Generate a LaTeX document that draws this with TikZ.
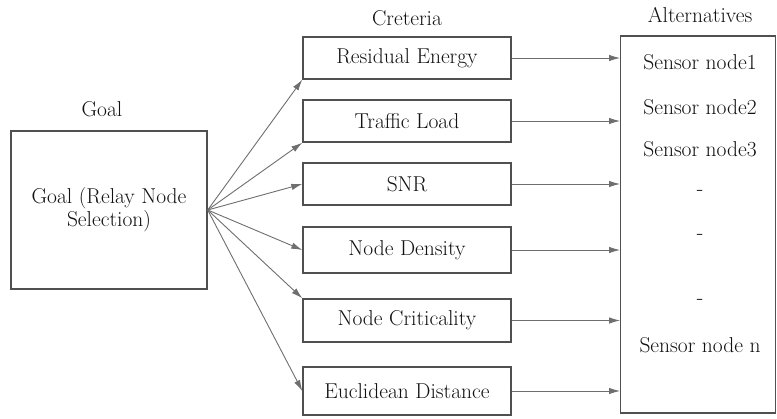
\documentclass[tikz,border=0pt]{standalone}
\usepackage{fontspec}
\usetikzlibrary{arrows.meta}
\definecolor{boxline}{HTML}{505050}
\definecolor{arrline}{HTML}{6E6E6E}
\definecolor{txt}{HTML}{111111}
\tikzset{
  box/.style={draw=boxline, line width=1.4pt, rectangle, inner sep=0pt, text=txt},
  lbl/.style={inner sep=0pt, text=txt},
  conn/.style={draw=arrline, line width=0.9pt, -{Latex[length=11pt,width=6.5pt]}},
}
\begin{document}
\begin{tikzpicture}[x=1pt, y=-1pt, font=\rmfamily\fontsize{21.5}{23}\selectfont]
\useasboundingbox (0,0) rectangle (777,419);
% Goal
\node[lbl] (goallbl) at (102,109) {Goal};
\node[box, minimum width=196pt, minimum height=158pt, align=center] (goal) at (109,210) {Goal (Relay Node\\Selection)};
% Criteria
\node[lbl] (critlbl) at (407,18) {Creteria};
\node[box, minimum width=208pt, minimum height=42pt] (c1) at (407,58) {Residual Energy};
\node[box, minimum width=208pt, minimum height=42pt] (c2) at (407,121) {Traffic Load};
\node[box, minimum width=208pt, minimum height=42pt] (c3) at (407,184) {SNR};
\node[box, minimum width=208pt, minimum height=46pt] (c4) at (407,250) {Node Density};
\node[box, minimum width=208pt, minimum height=43pt] (c5) at (407,320.5) {Node Criticality};
\node[box, minimum width=208pt, minimum height=48pt] (c6) at (407,391) {Euclidean Distance};
% Alternatives
\node[lbl] (altlbl) at (700,15) {Alternatives};
\node[box, minimum width=154.5pt, minimum height=377pt] (alt) at (698,224.5) {};
\node[lbl] (a1) at (700,62) {Sensor node1};
\node[lbl] (a2) at (700,107) {Sensor node2};
\node[lbl] (a3) at (700,149) {Sensor node3};
\node[lbl] (a4) at (700,193) {-};
\node[lbl] (a5) at (700,237) {-};
\node[lbl] (a6) at (700,302) {-};
\node[lbl] (a7) at (700,345) {Sensor node n};
% connectors goal -> criteria
\coordinate (g) at (goal.east);
\draw[conn] (g) -- (c1.south west);
\draw[conn] (g) -- (c2.south west);
\draw[conn] (g) -- (c3.west);
\draw[conn] (g) -- (c4.west);
\draw[conn] (g) -- (c5.north west);
\draw[conn] (g) -- (c6.west);
% criteria -> alternatives
\foreach \c in {c1,c2,c3,c4,c5,c6}
  \draw[conn] (\c.east) -- (\c.east -| alt.west);
\end{tikzpicture}
\end{document}
